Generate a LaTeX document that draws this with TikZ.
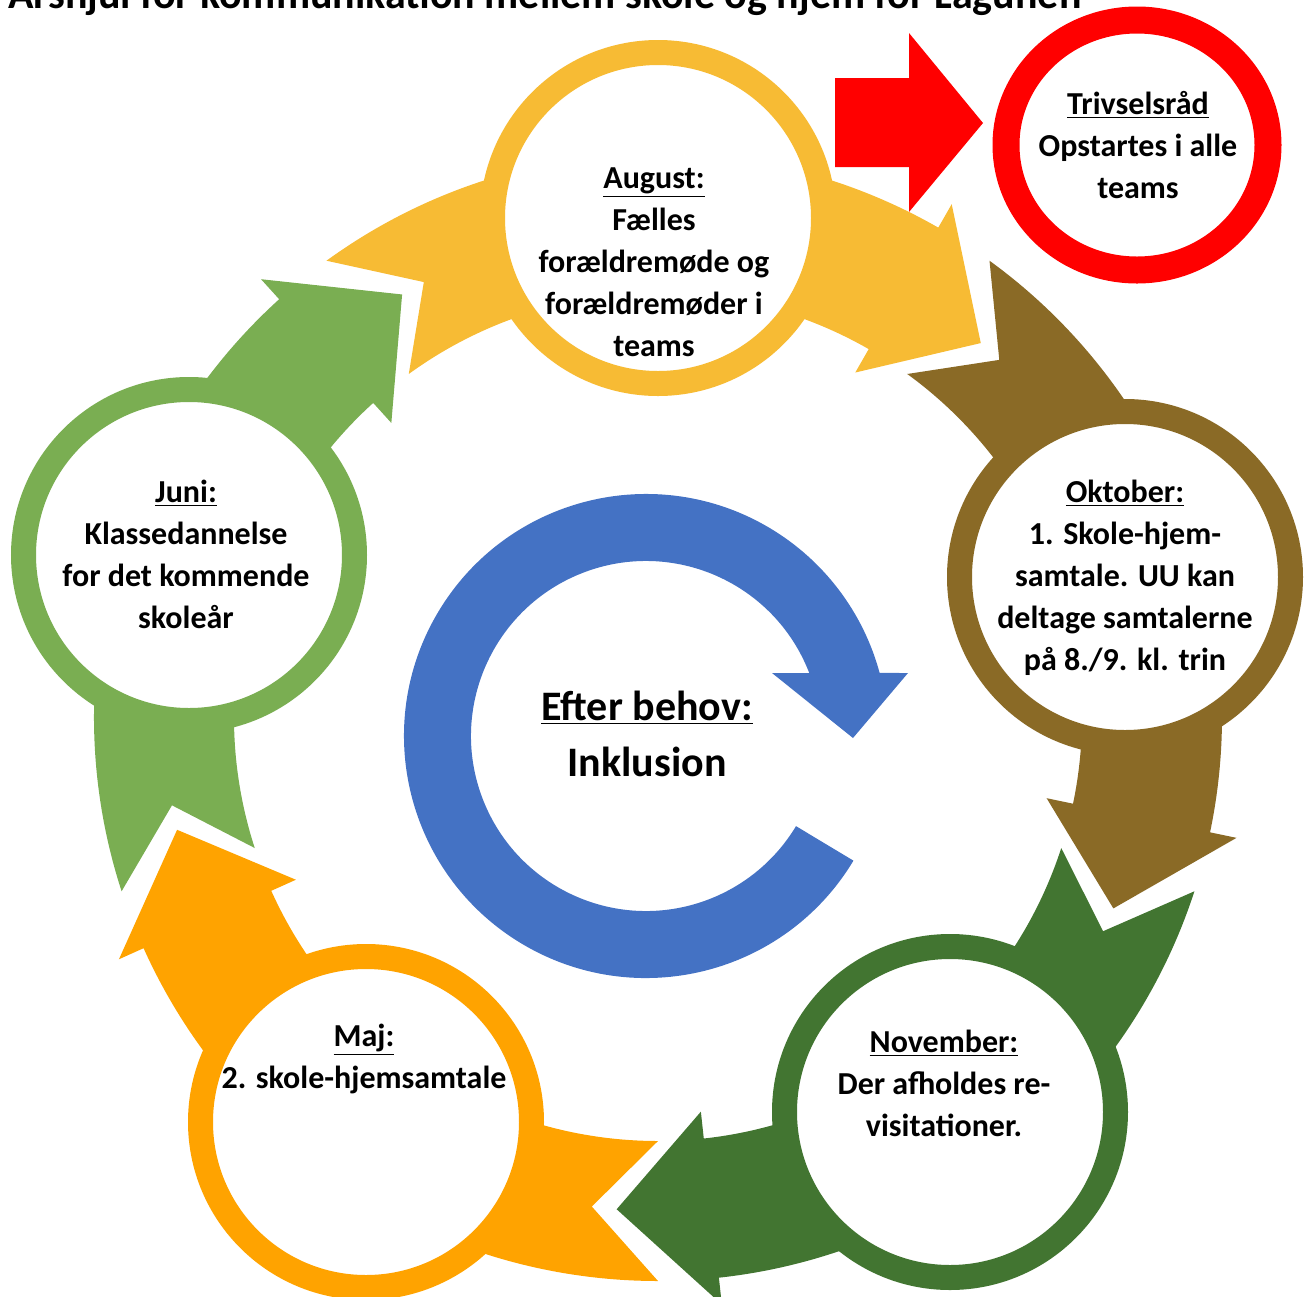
\documentclass[tikz,border=0pt]{standalone}
\usepackage{fontspec}
\setmainfont{Carlito}
\usetikzlibrary{shapes.geometric}

\definecolor{augcol}{RGB}{247,187,52}
\definecolor{oktcol}{RGB}{138,106,38}
\definecolor{novcol}{RGB}{66,117,49}
\definecolor{majcol}{RGB}{255,163,0}
\definecolor{junicol}{RGB}{122,174,82}
\definecolor{cyclecol}{RGB}{68,114,196}
\definecolor{alertcol}{RGB}{255,0,0}

% one curved arrow of the wheel: colour, angle of its ring
\newcommand{\wheelarrow}[2]{%
  \fill[#1] ({#2-36}:564) -- ({#2-28.3}:494) -- ({#2-36}:424)
    arc[start angle=#2-36, end angle=#2+29.8, radius=424]
    -- ({#2+29.8}:397) -- ({#2+40.8}:494) -- ({#2+29.8}:591)
    -- ({#2+29.8}:564)
    arc[start angle=#2+29.8, end angle=#2-36, radius=564] -- cycle;}

\begin{document}
\begin{tikzpicture}[x=0.5pt, y=-0.5pt,
    every node/.style={inner sep=0pt, align=center},
    ring/.style={circle, draw=#1, line width=12.5pt, fill=white, minimum size=165.5pt},
    txt/.style={font=\fontsize{16}{21}\selectfont\bfseries},
    bigtxt/.style={font=\fontsize{21}{28}\selectfont\bfseries}]

	% Frame
	\clip (0,0) rectangle (1308,1297);

	% Title, cut off at the top
	\node[bigtxt, anchor=base west] (title) at (8,8) {Årshjul for kommunikation mellem skole og hjem for Lagunen};

	% Arrows of the wheel
	\begin{scope}[shift={(658,717)}]
		\wheelarrow{augcol}{-90}
		\wheelarrow{oktcol}{-18}
		\wheelarrow{novcol}{54}
		\wheelarrow{majcol}{126}
		\wheelarrow{junicol}{198}
	\end{scope}

	% Rings
	\node[ring=augcol] (aug) at (658,218) {};
	\node[ring=oktcol] (okt) at (1125,577) {};
	\node[ring=novcol] (nov) at (950,1112) {};
	\node[ring=majcol] (maj) at (366,1122) {};
	\node[ring=junicol] (juni) at (189,555) {};

	% Texts in the rings
	\node[txt] (augtxt) at (654,262) {\underline{August:}\\Fælles\\forældremøde og\\forældremøder i\\teams};
	\node[txt] (okttxt) at (1125,578) {\underline{Oktober:}\\1. Skole-hjem-\\samtale. UU kan\\deltage samtalerne\\på 8./9. kl. trin};
	\node[txt] (novtxt) at (944,1083) {\underline{November:}\\Der afholdes re-\\visitationer.};
	\node[txt] (majtxt) at (364,1059) {\underline{Maj:}\\2. skole-hjemsamtale};
	\node[txt] (junitxt) at (186,554) {\underline{Juni:}\\Klassedannelse\\for det kommende\\skoleår};

	% Trivselsraad
	\fill[alertcol] (835,78) -- (909,78) -- (909,33) -- (983,123) -- (909,212) -- (909,167) -- (835,167) -- cycle;
	\node[ellipse, draw=alertcol, line width=13.5pt, fill=white, minimum width=131pt, minimum height=125pt] (triv) at (1137,145) {};
	\node[txt] (trivtxt) at (1138,145) {\underline{Trivselsråd}\\Opstartes i alle\\teams};

	% Inner cycle
	\coordinate (bc) at (646,736);
	\fill[cyclecol] ([shift={(31:242)}]bc) arc[start angle=31, end angle=344.9, radius=242]
		-- (908,673) -- (853,738) -- (772,673)
		-- ([shift={(338.9:175)}]bc) arc[start angle=338.9, end angle=31, radius=175] -- cycle;
	\node[bigtxt] (inkl) at (647,734) {\underline{Efter behov:}\\Inklusion};
\end{tikzpicture}
\end{document}
